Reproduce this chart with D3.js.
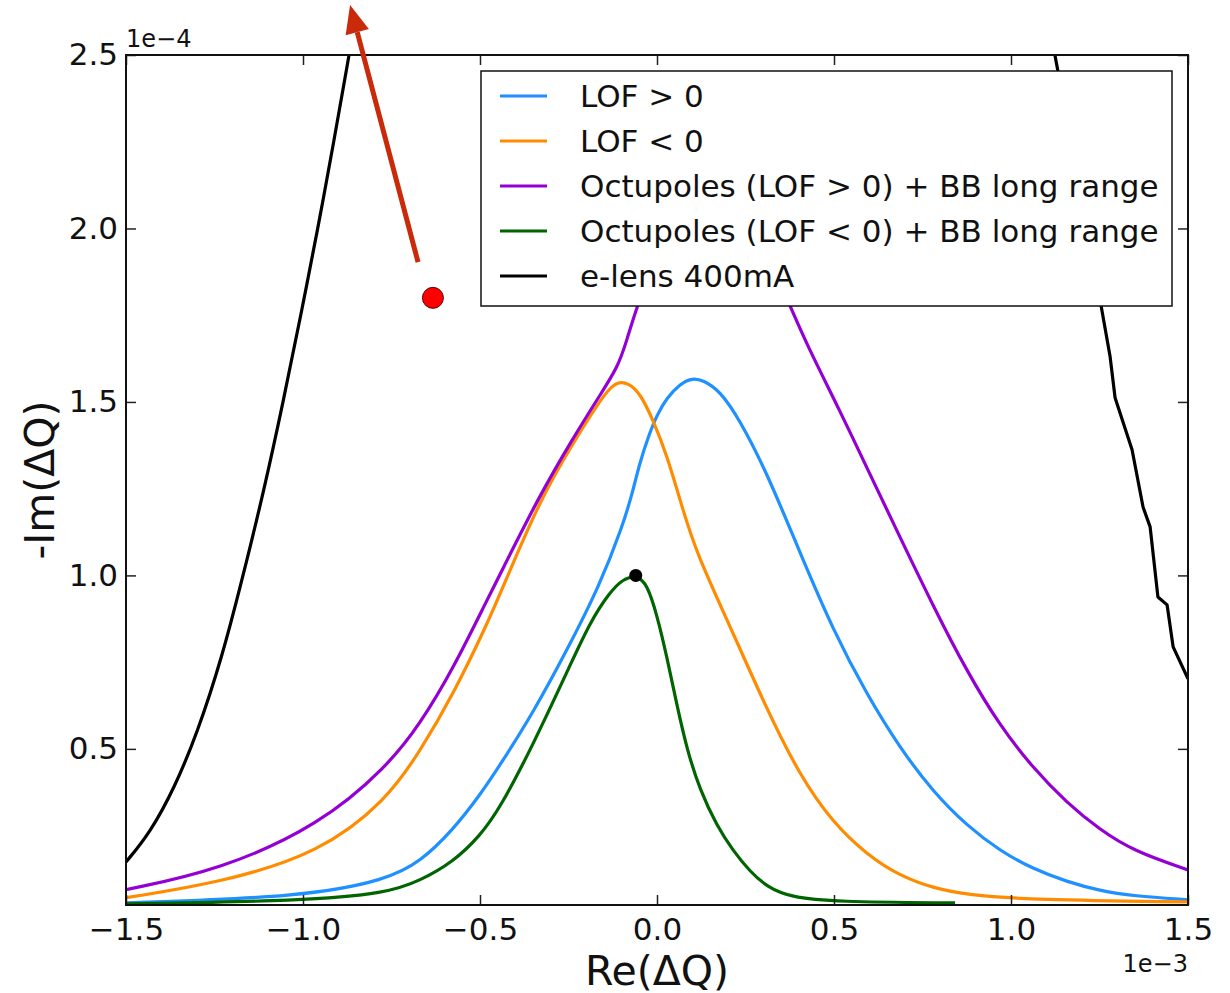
<!DOCTYPE html>
<html>
<head>
<meta charset="utf-8">
<script src="https://cdn.jsdelivr.net/npm/d3@7"></script>
<style>
    body { margin: 0; background: #fff; }
    svg { font-family: 'DejaVu Sans', sans-serif; }
</style>
</head>
<body>
<svg width="1230" height="993"></svg>
<script>
// values in units of 1e-3 (x) and 1e-4 (y)
const xTicks = [-1.5, -1.0, -0.5, 0.0, 0.5, 1.0, 1.5];
const yTicks = [0.5, 1.0, 1.5, 2.0, 2.5];

const lofPos = [
    [-1.5, 0.056], [-1.0, 0.073], [-0.763, 0.123], [-0.669, 0.174], [-0.576, 0.267],
    [-0.5, 0.367], [-0.443, 0.454], [-0.35, 0.604], [-0.254, 0.785], [-0.161, 0.973],
    [-0.096, 1.146], [-0.071, 1.232], [-0.048, 1.327], [-0.025, 1.399], [0.0, 1.463],
    [0.028, 1.512], [0.065, 1.552], [0.099, 1.569], [0.13, 1.563], [0.178, 1.532],
    [0.234, 1.448], [0.311, 1.295], [0.404, 1.065], [0.497, 0.843], [0.593, 0.656],
    [0.686, 0.503], [0.78, 0.376], [0.876, 0.278], [0.969, 0.206], [1.062, 0.154],
    [1.158, 0.117], [1.251, 0.091], [1.345, 0.076], [1.5, 0.065]
];

const lofNeg = [
    [-1.5, 0.071], [-1.234, 0.114], [-0.952, 0.2], [-0.763, 0.353], [-0.669, 0.494],
    [-0.576, 0.656], [-0.48, 0.86], [-0.443, 0.947], [-0.331, 1.218], [-0.237, 1.382],
    [-0.141, 1.537], [-0.11, 1.558], [-0.082, 1.555], [-0.048, 1.526], [-0.011, 1.448],
    [0.028, 1.347], [0.073, 1.189], [0.113, 1.06], [0.215, 0.834], [0.311, 0.612],
    [0.404, 0.422], [0.497, 0.287], [0.593, 0.195], [0.686, 0.134], [0.78, 0.099],
    [0.876, 0.079], [1.062, 0.065], [1.5, 0.059]
];

const octPos = [
    [-1.5, 0.094], [-1.234, 0.151], [-0.952, 0.281], [-0.763, 0.448], [-0.669, 0.572],
    [-0.576, 0.731], [-0.48, 0.929], [-0.443, 1.004], [-0.331, 1.232], [-0.237, 1.396],
    [-0.161, 1.52], [-0.11, 1.601], [-0.085, 1.679], [-0.057, 1.774], [0.0, 1.93],
    [0.07, 2.05], [0.15, 2.1], [0.24, 2.05], [0.31, 1.93], [0.376, 1.777],
    [0.421, 1.67], [0.517, 1.474], [0.593, 1.31], [0.686, 1.111], [0.78, 0.912],
    [0.876, 0.722], [0.969, 0.566], [1.062, 0.445], [1.158, 0.344], [1.251, 0.267],
    [1.345, 0.206], [1.5, 0.151]
];

const octNeg = [
    [-1.5, 0.053], [-1.0, 0.062], [-0.763, 0.084], [-0.669, 0.12], [-0.576, 0.174],
    [-0.5, 0.249], [-0.443, 0.33], [-0.35, 0.512], [-0.254, 0.722], [-0.189, 0.866],
    [-0.133, 0.952], [-0.096, 0.99], [-0.057, 1.0], [-0.028, 0.975], [0.0, 0.886],
    [0.028, 0.765], [0.056, 0.627], [0.085, 0.497], [0.121, 0.382], [0.169, 0.278],
    [0.215, 0.206], [0.263, 0.146], [0.311, 0.102], [0.376, 0.073], [0.5, 0.059],
    [0.842, 0.056]
];

const elensLeft = [
    [-1.5, 0.174], [-1.432, 0.258], [-1.362, 0.39], [-1.299, 0.545], [-1.229, 0.762],
    [-1.169, 1.0], [-1.11, 1.246], [-1.056, 1.5], [-1.006, 1.751], [-0.958, 2.0],
    [-0.912, 2.255], [-0.87, 2.5]
];

const elensRight = [
    [1.124, 2.5], [1.19, 2.14], [1.254, 1.78], [1.28, 1.63], [1.294, 1.512], [1.342, 1.362],
    [1.373, 1.197], [1.393, 1.14], [1.415, 0.938], [1.441, 0.915], [1.458, 0.794], [1.5, 0.702]
];

const seriesNames = ['LOF > 0', 'LOF < 0', 'Octupoles (LOF > 0) + BB long range',
    'Octupoles (LOF < 0) + BB long range', 'e-lens 400mA'];
const seriesData = [[lofPos], [lofNeg], [octPos], [octNeg], [elensLeft, elensRight]];
const seriesColors = ['#1e90ff', '#ff8c00', '#9400d3', '#006400', '#000000'];

const redPoint = [-0.633, 1.8];
const blackPoint = [-0.06, 1.0];
const arrowFrom = [-0.675, 1.903];
const arrowTo = [-0.867, 2.644];

const margin = { top: 55, right: 42, bottom: 88, left: 126 };
const width = 1230 - margin.left - margin.right;
const height = 993 - margin.top - margin.bottom;

let svg = d3.select('svg');
let x = d3.scaleLinear().domain([-1.5, 1.5]).range([0, width]);
let y = d3.scaleLinear().domain([0.05, 2.5]).range([height, 0]);

svg.append('defs').append('clipPath').attr('id', 'plot-clip')
    .append('rect').attr('width', width).attr('height', height);

let g = svg.append('g').attr('transform', `translate(${margin.left},${margin.top})`);

// curves
let smooth = d3.line().x(d => x(d[0])).y(d => y(d[1])).curve(d3.curveBasis);
let straight = d3.line().x(d => x(d[0])).y(d => y(d[1]));
let curves = g.append('g').attr('clip-path', 'url(#plot-clip)');
seriesData.forEach((parts, i) => {
    parts.forEach(pts => {
        curves.append('path')
            .attr('d', pts === elensRight ? straight(pts) : smooth(pts))
            .attr('fill', 'none')
            .attr('stroke', seriesColors[i])
            .attr('stroke-width', 3.2)
            .attr('stroke-linejoin', 'round');
    });
});

// axes, ticks inside on all sides
let fmt = d3.format('.1f');
g.append('g').attr('transform', `translate(0,${height})`)
    .call(d3.axisBottom(x).tickValues(xTicks).tickFormat(fmt).tickSize(-10).tickPadding(13));
g.append('g')
    .call(d3.axisLeft(y).tickValues(yTicks).tickFormat(fmt).tickSize(-10).tickPadding(8));
g.append('g').call(d3.axisTop(x).tickValues(xTicks).tickFormat('').tickSize(-10));
g.append('g').attr('transform', `translate(${width},0)`)
    .call(d3.axisRight(y).tickValues(yTicks).tickFormat('').tickSize(-10));
g.selectAll('.domain').remove();
g.selectAll('.tick line').attr('stroke', '#222').attr('stroke-width', 1.5);
g.selectAll('.tick text').attr('font-size', 31).attr('fill', '#111')
    .attr('font-family', "'DejaVu Sans', sans-serif");

g.append('rect').attr('width', width).attr('height', height)
    .attr('fill', 'none').attr('stroke', '#111').attr('stroke-width', 2);

// offset texts and labels
g.append('text').attr('x', 0).attr('y', -8).attr('font-size', 24).attr('fill', '#111').text('1e\u22124');
g.append('text').attr('x', width).attr('y', height + 67).attr('text-anchor', 'end')
    .attr('font-size', 24).attr('fill', '#111').text('1e\u22123');
g.append('text').attr('x', width / 2).attr('y', height + 80).attr('text-anchor', 'middle')
    .attr('font-size', 41).attr('fill', '#111').text('Re(\u0394Q)');
g.append('text').attr('transform', `translate(${-72},${height / 2}) rotate(-90)`)
    .attr('text-anchor', 'middle').attr('font-size', 41).attr('fill', '#111').text('-Im(\u0394Q)');

// legend
let legend = g.append('g').attr('transform', `translate(${355},${16})`);
legend.append('rect').attr('width', 691).attr('height', 235)
    .attr('fill', '#fff').attr('stroke', '#111').attr('stroke-width', 1.5);
seriesNames.forEach((name, i) => {
    let row = legend.append('g').attr('transform', `translate(0,${25 + i * 45})`);
    row.append('line').attr('x1', 19).attr('x2', 66).attr('y1', 0).attr('y2', 0)
        .attr('stroke', seriesColors[i]).attr('stroke-width', 3);
    row.append('text').attr('x', 99).attr('y', 0).attr('dy', '0.35em')
        .attr('font-size', 31).attr('fill', '#111').text(name);
});

// markers
g.append('circle').attr('cx', x(blackPoint[0])).attr('cy', y(blackPoint[1])).attr('r', 6.5)
    .attr('fill', '#000');
g.append('circle').attr('cx', x(redPoint[0])).attr('cy', y(redPoint[1])).attr('r', 10.5)
    .attr('fill', '#ff0000').attr('stroke', '#5a0000').attr('stroke-width', 1);

// arrow
let ax0 = x(arrowFrom[0]), ay0 = y(arrowFrom[1]), ax1 = x(arrowTo[0]), ay1 = y(arrowTo[1]);
let len = Math.hypot(ax1 - ax0, ay1 - ay0);
let ux = (ax1 - ax0) / len, uy = (ay1 - ay0) / len;
let headLen = 28, headHalf = 12;
let bx = ax1 - ux * headLen, by = ay1 - uy * headLen;
g.append('line').attr('x1', ax0).attr('y1', ay0).attr('x2', bx).attr('y2', by)
    .attr('stroke', '#c82a0a').attr('stroke-width', 5);
g.append('polygon')
    .attr('points', [[ax1, ay1], [bx - uy * headHalf, by + ux * headHalf], [bx + uy * headHalf, by - ux * headHalf]]
        .map(p => p.join(',')).join(' '))
    .attr('fill', '#c82a0a');
</script>
</body>
</html>
